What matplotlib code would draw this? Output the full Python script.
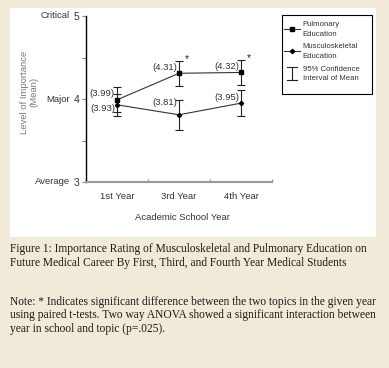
import matplotlib
matplotlib.use('Agg')
import matplotlib.pyplot as plt
from matplotlib.patches import Rectangle
from matplotlib.lines import Line2D
from matplotlib.legend_handler import HandlerBase
from matplotlib.transforms import blended_transform_factory

years = ['1st Year', '3rd Year', '4th Year']
pulmonary = [3.99, 4.31, 4.32]
musculo = [3.93, 3.81, 3.95]
pulm_ci = [0.15, 0.15, 0.15]
musc_ci = [0.13, 0.18, 0.16]
significant = [False, True, True]
ytick_vals = [3, 4, 5]
ytick_words = ['Average', 'Major', 'Critical']
series_names = ['Pulmonary\nEducation', 'Musculoskeletal\nEducation', '95% Confidence\nInterval of Mean']
xlabel = 'Academic School Year'
ylabel = 'Level of Importance\n(Mean)'
caption = ('Figure 1: Importance Rating of Musculoskeletal and Pulmonary Education on\n'
           'Future Medical Career By First, Third, and Fourth Year Medical Students')
note = ('Note: * Indicates significant difference between the two topics in the given year\n'
        'using paired t-tests. Two way ANOVA showed a significant interaction between\n'
        'year in school and topic (p=.025).')

SANS = 'Liberation Sans'
SERIF = 'Liberation Serif'
W, H = 389, 368
PX = 0.72  # points per pixel at dpi 100

fig = plt.figure(figsize=(W / 100, H / 100), dpi=100)
fig.patch.set_facecolor('#f2ead8')
fig.patches.append(Rectangle((10 / W, 1 - 237 / H), 366 / W, 229 / H,
                             transform=fig.transFigure, facecolor='white',
                             edgecolor='none', zorder=-5))

ax = fig.add_axes([86 / W, 1 - 182 / H, 186 / W, 166 / H])
ax.set_facecolor('none')
ax.set_zorder(2)
xs = list(range(len(years)))
line_col = '#333333'

ax.errorbar(xs, pulmonary, yerr=pulm_ci, color=line_col, lw=0.8, marker='s', ms=3.2,
            mfc='black', mec='black', ecolor='#222222', elinewidth=0.8,
            capsize=3, capthick=0.8, zorder=3)
ax.errorbar(xs, musculo, yerr=musc_ci, color=line_col, lw=0.8, marker='D', ms=2.2,
            mfc='black', mec='black', ecolor='#222222', elinewidth=0.8,
            capsize=3, capthick=0.8, zorder=3)

# value labels
pulm_off = [(-2, 6), (-2, 6), (-2, 6)]
musc_off = [(-2, -4), (-2, 12), (-2, 6)]
for i in xs:
    ax.annotate('(%.2f)' % pulmonary[i], (i, pulmonary[i]),
                xytext=(pulm_off[i][0] * PX, pulm_off[i][1] * PX), textcoords='offset points',
                ha='right', va='center', fontsize=6.8, family=SANS, color='#333333')
    ax.annotate('(%.2f)' % musculo[i], (i, musculo[i]),
                xytext=(musc_off[i][0] * PX, musc_off[i][1] * PX), textcoords='offset points',
                ha='right', va='center', fontsize=6.8, family=SANS, color='#333333')
    if significant[i]:
        ax.annotate('*', (i, pulmonary[i] + pulm_ci[i]),
                    xytext=(8 * PX, 2 * PX), textcoords='offset points',
                    ha='center', va='center', fontsize=7.5, family=SANS, color='#222222')

ax.set_xlim(-0.5, len(years) - 0.5)
ax.set_ylim(3, 5)
ax.set_xticks(xs)
ax.set_xticklabels(years, family=SANS, fontsize=6.8, color='#333333')
ax.set_xticks([-0.5, 0.5, 1.5, 2.5], minor=True)
ax.tick_params(axis='x', which='major', length=0, pad=7)
ax.tick_params(axis='x', which='minor', length=2, direction='in', color='#999999', width=1)

ax.set_yticks(ytick_vals)
ax.set_yticklabels([str(v) for v in ytick_vals], family=SANS, fontsize=7.5, color='#333333')
ax.set_yticks([3.5, 4.5], minor=True)
ax.tick_params(axis='y', which='both', length=3, width=0.8, color='#888888', pad=2)

for s in ['top', 'right']:
    ax.spines[s].set_visible(False)
ax.spines['left'].set_color('black')
ax.spines['left'].set_linewidth(1.0)
ax.spines['bottom'].set_color('#999999')
ax.spines['bottom'].set_linewidth(1.5)

tr = blended_transform_factory(fig.transFigure, ax.transData)
for v, w in zip(ytick_vals, ytick_words):
    ax.text(70 / W, v, w, transform=tr, ha='right', va='center', fontsize=6.8,
            family=SANS, color='#333333')

fig.text(29 / W, 1 - 92 / H, ylabel, rotation=90, ha='center', va='center',
         fontsize=6.8, family=SANS, color='#7a7a7a', multialignment='center',
         linespacing=1.1)
fig.text(182 / W, 1 - 217 / H, xlabel, ha='center', va='center', fontsize=6.8,
         family=SANS, color='#333333')


class IBeamHandler(HandlerBase):
    def create_artists(self, legend, orig_handle, xdescent, ydescent, width, height,
                       fontsize, trans):
        cx = width / 2 - xdescent
        top = height * 0.5 + 4.5
        bot = height * 0.5 - 4.5
        cw = 3.5
        arts = [Line2D([cx, cx], [bot, top], color='#222222', lw=0.8),
                Line2D([cx - cw, cx + cw], [top, top], color='#222222', lw=0.8),
                Line2D([cx - cw, cx + cw], [bot, bot], color='#222222', lw=0.8)]
        for a in arts:
            a.set_transform(trans)
        return arts


class IBeam:
    pass


# legend frame
fig.patches.append(Rectangle((282 / W, 1 - 94 / H), 89.5 / W, 79 / H,
                             transform=fig.transFigure, facecolor='white',
                             edgecolor='black', lw=0.8, zorder=3))

LFS = 5.6
h1 = Line2D([], [], color=line_col, lw=0.8, marker='s', ms=3.2, mfc='black', mec='black')
h2 = Line2D([], [], color=line_col, lw=0.8, marker='D', ms=2.2, mfc='black', mec='black')
h3 = IBeam()
leg = fig.legend([h1, h2, h3], series_names, loc='upper left',
                 bbox_to_anchor=(284 / W, 1 - 21 / H), frameon=False,
                 prop={'family': SANS, 'size': LFS},
                 handlelength=16 / (LFS / PX), handletextpad=2.7 / (LFS / PX),
                 borderpad=0, borderaxespad=0, labelspacing=0.75,
                 handler_map={IBeam: IBeamHandler()})
leg.set_zorder(4)
for t in leg.get_texts():
    t.set_color('#333333')
    t.set_linespacing(1.5)

fig.text(10 / W, 1 - 243 / H, caption, ha='left', va='top', fontsize=8.3,
         family=SERIF, color='#1a1a1a', linespacing=1.18)
fig.text(10 / W, 1 - 296 / H, note, ha='left', va='top', fontsize=8.3,
         family=SERIF, color='#1a1a1a', linespacing=1.15)

fig.savefig('out.png', dpi=100, facecolor=fig.get_facecolor())
